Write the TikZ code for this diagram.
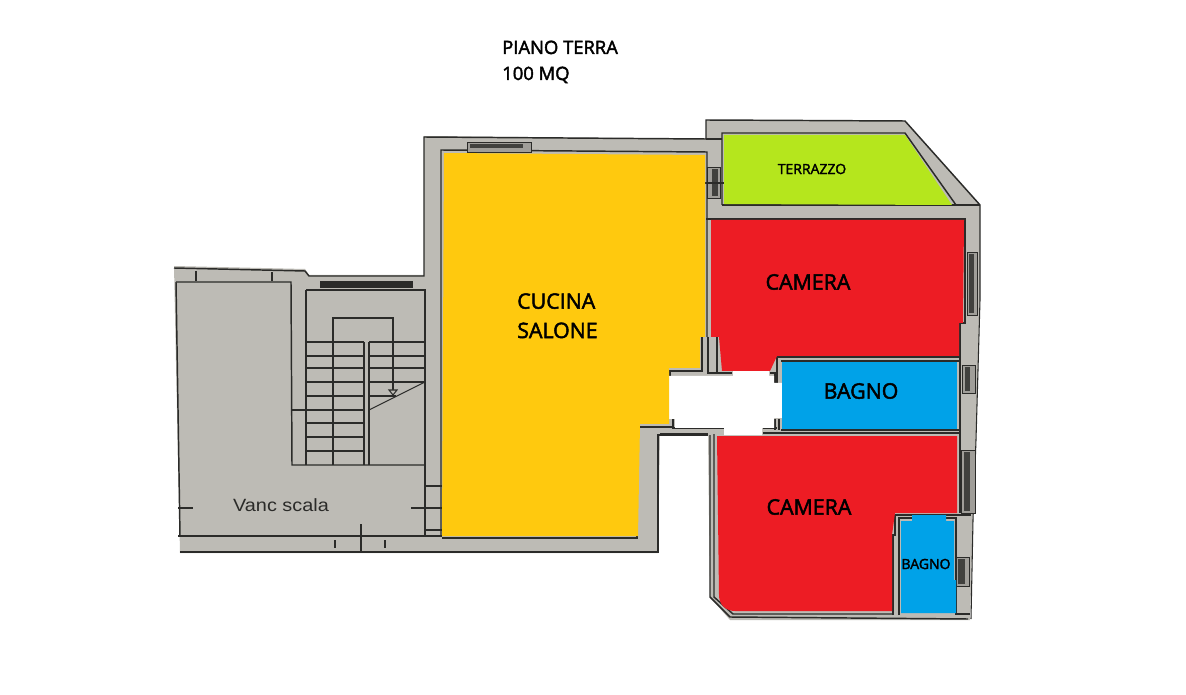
\documentclass[tikz,border=0pt]{standalone}
\usepackage{fontspec}
\setmainfont{Open Sans}[FakeBold=2.2]
\newfontfamily\plainsans{Liberation Sans}
\definecolor{wallgray}{HTML}{BDBBB5}
\definecolor{inkline}{HTML}{2B2B29}
\definecolor{yellowroom}{HTML}{FFC90E}
\definecolor{redroom}{HTML}{ED1C24}
\definecolor{blueroom}{HTML}{00A2E8}
\definecolor{greenroom}{HTML}{B5E61D}
\tikzset{
  wallline/.style={draw=inkline,line width=1.1pt},
  thinline/.style={draw=inkline,line width=0.8pt},
  roomfill/.style={draw=none},
  windowframe/.style={draw=inkline,line width=0.5pt,fill=wallgray!80!inkline},
  windowcore/.style={fill=inkline!85!wallgray,draw=none},
  biglabel/.style={font=\fontsize{16}{20}\selectfont,text=black,inner sep=0pt},
  smalllabel/.style={font=\fontsize{10.5}{13}\selectfont,text=black,inner sep=0pt},
  titlelabel/.style={font=\fontsize{13.8}{15}\selectfont,text=black,inner sep=0pt,anchor=base west}
}
\begin{document}
\begin{tikzpicture}[x=0.75pt,y=-0.75pt]
\useasboundingbox (0,0) rectangle (1186,695);
\fill[white] (0,0) rectangle (1186,695);
% gray plan body
\fill[wallgray] (174,266) -- (305,269) -- (309,275) -- (424,275) -- (424,136) -- (706,139) -- (706,120) -- (905,121) -- (980,205) -- (980,300) -- (976,440) -- (973,520) -- (970,620) -- (730,620) -- (710,597) -- (708,435) -- (660,435) -- (658,553) -- (180,553) -- cycle;
% outer outline
\draw[wallline] (174,268) -- (305,271) -- (309,276) -- (424,276) -- (424,137) -- (706,139) -- (706,120) -- (905,121) -- (980,205);
\draw[thinline] (980,205) -- (980,300) -- (976,440) -- (973,520) -- (971,619);
\draw[wallline] (178,536) -- (442,536);
\draw[wallline] (180,552) -- (658,552) -- (658,435) -- (708,435);
\draw[wallline] (710,435) -- (710,597) -- (730,617) -- (968,619);
\draw[wallline] (176,282) -- (180,536);
% stair block
\draw[wallline] (176,282) -- (291,282) -- (292,465) -- (425,465);
\draw[wallline] (306,290) -- (425,290) -- (425,536);
\draw[wallline] (306,290) -- (306,465);
\fill[inkline] (320,281) rectangle (413,288);
\draw[thinline] (333,465) -- (333,318) -- (393,318) -- (393,390);
\foreach \yy in {342,356,368,382,396,423,437,451} {
  \draw[thinline] (306,\yy) -- (364,\yy);
}
\draw[wallline] (292,410) -- (364,410);
\foreach \yy in {342,356,368} {
  \draw[thinline] (369,\yy) -- (425,\yy);
}
\draw[thinline] (369,382) -- (425,382);
\draw[thinline] (369,396) -- (396,396);
\draw[thinline] (364,342) -- (364,465);
\draw[thinline] (369,342) -- (369,465);
\draw[thinline] (369,410) -- (425,382);
\draw[thinline,fill=wallgray] (389,390) -- (397,390) -- (393,395) -- cycle;
% small ticks
\draw[wallline] (178,508) -- (193,508);
\draw[wallline] (411,508) -- (442,508);
\draw[thinline] (425,486) -- (442,486);
\draw[thinline] (425,530) -- (442,530);
\draw[thinline] (361,524) -- (361,553);
\draw[thinline] (335,540) -- (335,548);
\draw[thinline] (385,540) -- (385,548);
\draw[thinline] (196,271) -- (196,281);
\draw[thinline] (272,272) -- (272,281);
% rooms frames
\draw[wallline] (441,536) -- (441,150) -- (707,152) -- (707,337);
\draw[wallline] (706,219) -- (966,219);
\draw[wallline] (722,205) -- (722,133) -- (905,133) -- (956,205);
\draw[wallline] (722,205) -- (980,205);
\draw[wallline] (706,139) -- (722,139);
\draw[wallline] (640,427) -- (672,427);
\draw[wallline] (637,428) -- (637,538) -- (442,538);
\draw[wallline] (702,337) -- (702,371) -- (670,371) -- (670,383);
\draw[wallline] (708,337) -- (708,373) -- (732,373);
\draw[wallline] (717,337) -- (717,373);
\draw[wallline] (673,419) -- (673,428) -- (724,428);
\draw[wallline] (660,434) -- (708,434);
\draw[wallline] (714,434) -- (714,597) -- (733,614) -- (893,614);
\draw[wallline] (763,428) -- (777,428);
\draw[wallline] (775,419) -- (775,430);
\draw[wallline] (779,419) -- (779,430);
\draw[wallline] (763,433) -- (960,433);
\draw[wallline] (770,373) -- (777,373);
\draw[wallline] (775,383) -- (775,373);
\draw[wallline] (777,383) -- (777,357) -- (960,357);
\draw[wallline] (781,361) -- (960,361);
\draw[wallline] (781,430) -- (960,430);
\draw[wallline] (965,220) -- (965,323) -- (960,323) -- (960,513);
\draw[wallline] (893,615) -- (893,535) -- (895,535) -- (895,515) -- (971,515);
\draw[wallline] (899,615) -- (899,518) -- (912,518);
\draw[wallline] (946,518) -- (956,518) -- (956,614) -- (970,614);
% windows and doors
\draw[windowframe] (967,252) rectangle (977,315);
\fill[windowcore] (969,254) rectangle (974,313);
\draw[windowframe] (962,365) rectangle (975,393);
\fill[windowcore] (965,367) rectangle (970,391);
\draw[windowframe] (961,450) rectangle (975,513);
\fill[windowcore] (964,452) rectangle (970,511);
\draw[windowframe] (956,557) rectangle (969,586);
\fill[windowcore] (958,559) rectangle (965,584);
\draw[windowframe] (467,142) rectangle (531,152);
\fill[windowcore] (470,144) rectangle (523,148);
\draw[windowframe] (707,167) rectangle (720,198);
\fill[windowcore] (712,169) rectangle (718,196);
\draw[thinline] (703,183) -- (724,183);
% white passage
\fill[white] (669,376) -- (733,376) -- (733,371) -- (769,371) -- (769,376) -- (774,376) -- (774,383) -- (782,383) -- (782,418) -- (774,418) -- (774,428) -- (762,428) -- (762,435) -- (724,435) -- (724,428) -- (675,428) -- (675,419) -- (669,419) -- cycle;
% coloured rooms
\fill[yellowroom,roomfill] (444,153) -- (705,155) -- (705,337) -- (700,337) -- (700,368) -- (669,368) -- (669,424) -- (640,424) -- (638,536) -- (442,536) -- cycle;
\fill[redroom,roomfill] (711,220) -- (964,220) -- (963,323) -- (959,323) -- (959,356) -- (777,356) -- (770,371) -- (722,371) -- (719,337) -- (711,337) -- cycle;
\fill[blueroom,roomfill] (782,362) -- (957,362) -- (957,429) -- (782,429) -- cycle;
\fill[redroom,roomfill] (717,436) -- (957,436) -- (957,513) -- (895,513) -- (892,535) -- (892,611) -- (735,611) .. controls (725,611) and (719,604) .. (719,595) -- cycle;
\fill[blueroom,roomfill] (901,521) -- (912,521) -- (912,515) -- (946,515) -- (946,521) -- (954,521) -- (954,580) -- (956,580) -- (956,613) -- (901,613) -- cycle;
\fill[greenroom,roomfill] (724,135) -- (905,135) -- (952,205) -- (724,204) -- cycle;
% labels
\node[titlelabel] (title1) at (502,54) {PIANO TERRA};
\node[titlelabel] (title2) at (502,80) {100 MQ};
\node[smalllabel] (terrazzo) at (812,169) {TERRAZZO};
\node[biglabel] (camera1) at (808,282) {CAMERA};
\node[biglabel,align=left,anchor=north west,font=\fontsize{16}{22}\selectfont] (cucina) at (517,293) {CUCINA\\SALONE};
\node[biglabel] (bagno1) at (861,391) {BAGNO};
\node[biglabel] (camera2) at (809,507) {CAMERA};
\node[smalllabel] (bagno2) at (926,564) {BAGNO};
\node[inner sep=0pt,text=inkline,xscale=1.12,font=\plainsans\fontsize{13.3}{15}\selectfont] (vano) at (281,505) {Vanc scala};
\end{tikzpicture}
\end{document}
